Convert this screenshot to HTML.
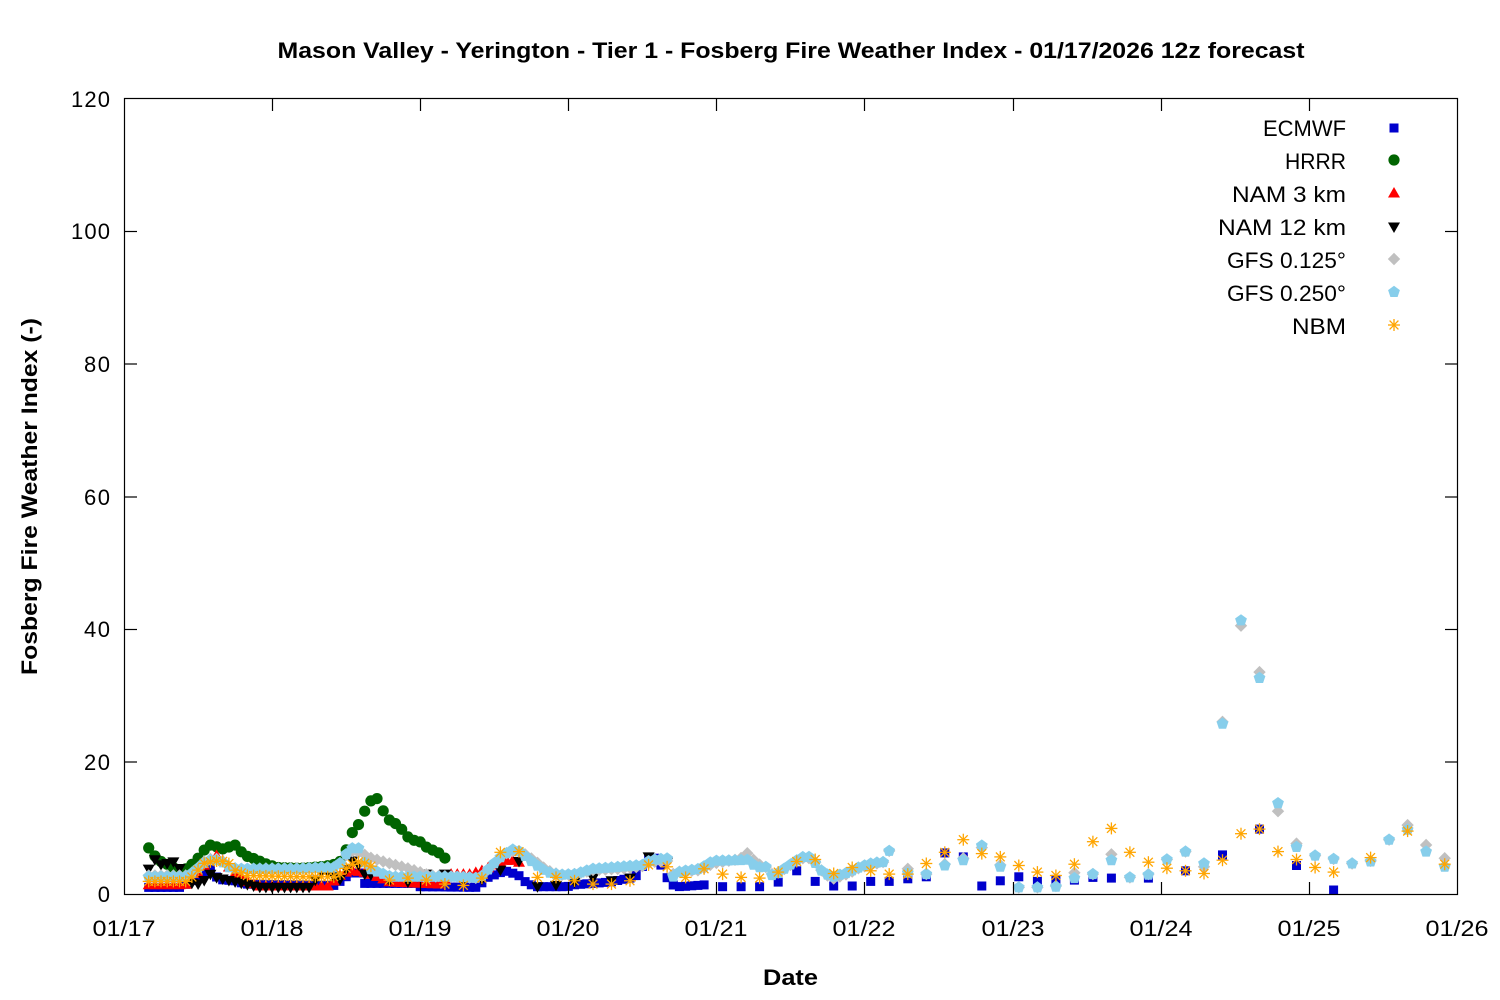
<!DOCTYPE html>
<html>
<head>
<meta charset="utf-8">
<style>
html,body{margin:0;padding:0;background:#fff;}
svg{display:block;}
text{font-family:"Liberation Sans",sans-serif;fill:#000;}
</style>
</head>
<body>
<svg id="chart" width="1500" height="1000" viewBox="0 0 1500 1000" xmlns="http://www.w3.org/2000/svg">
<defs>
  <rect id="mSq" x="-4.5" y="-4.5" width="9" height="9" fill="#0000cd"/>
  <circle id="mCi" cx="0" cy="0" r="5.6" fill="#006400"/>
  <polygon id="mUp" points="0,-6 6,4.5 -6,4.5" fill="#ff0000"/>
  <polygon id="mDn" points="0,6 6,-4.5 -6,-4.5" fill="#000000"/>
  <polygon id="mDi" points="0,-6.2 6.2,0 0,6.2 -6.2,0" fill="#c0c0c0"/>
  <polygon id="mPe" points="0,-6.2 5.9,-1.9 3.6,5 -3.6,5 -5.9,-1.9" fill="#87ceeb"/>
  <g id="mSt" stroke="#ffa500" stroke-width="1.3" fill="none">
    <line x1="-6" y1="0" x2="6" y2="0"/>
    <line x1="0" y1="-6" x2="0" y2="6"/>
    <line x1="-4.4" y1="-4.4" x2="4.4" y2="4.4"/>
    <line x1="-4.4" y1="4.4" x2="4.4" y2="-4.4"/>
  </g>
</defs>

<rect x="0" y="0" width="1500" height="1000" fill="#fff"/>

<!-- title -->
<text x="791" y="58" text-anchor="middle" font-size="22" font-weight="bold" textLength="1027" lengthAdjust="spacingAndGlyphs">Mason Valley - Yerington - Tier 1 - Fosberg Fire Weather Index - 01/17/2026 12z forecast</text>

<!-- data -->
<g id="data"></g>

<!-- axes box -->
<rect x="124.5" y="98.5" width="1333" height="796" fill="none" stroke="#000" stroke-width="1.2"/>

<!-- ticks -->
<g stroke="#000" stroke-width="1.2">
  <line x1="124.5" y1="762" x2="137" y2="762"/><line x1="1445" y1="762" x2="1457.5" y2="762"/>
  <line x1="124.5" y1="629.5" x2="137" y2="629.5"/><line x1="1445" y1="629.5" x2="1457.5" y2="629.5"/>
  <line x1="124.5" y1="497" x2="137" y2="497"/><line x1="1445" y1="497" x2="1457.5" y2="497"/>
  <line x1="124.5" y1="364" x2="137" y2="364"/><line x1="1445" y1="364" x2="1457.5" y2="364"/>
  <line x1="124.5" y1="231.5" x2="137" y2="231.5"/><line x1="1445" y1="231.5" x2="1457.5" y2="231.5"/>

  <line x1="272.5" y1="894.5" x2="272.5" y2="882"/><line x1="272.5" y1="98.5" x2="272.5" y2="111"/>
  <line x1="420.5" y1="894.5" x2="420.5" y2="882"/><line x1="420.5" y1="98.5" x2="420.5" y2="111"/>
  <line x1="568.5" y1="894.5" x2="568.5" y2="882"/><line x1="568.5" y1="98.5" x2="568.5" y2="111"/>
  <line x1="716.5" y1="894.5" x2="716.5" y2="882"/><line x1="716.5" y1="98.5" x2="716.5" y2="111"/>
  <line x1="864.5" y1="894.5" x2="864.5" y2="882"/><line x1="864.5" y1="98.5" x2="864.5" y2="111"/>
  <line x1="1013.5" y1="894.5" x2="1013.5" y2="882"/><line x1="1013.5" y1="98.5" x2="1013.5" y2="111"/>
  <line x1="1161.5" y1="894.5" x2="1161.5" y2="882"/><line x1="1161.5" y1="98.5" x2="1161.5" y2="111"/>
  <line x1="1309.5" y1="894.5" x2="1309.5" y2="882"/><line x1="1309.5" y1="98.5" x2="1309.5" y2="111"/>
</g>

<!-- y tick labels -->
<g font-size="22" text-anchor="end">
  <text x="110" y="902" textLength="13">0</text>
  <text x="110" y="770" textLength="26">20</text>
  <text x="110" y="637" textLength="26">40</text>
  <text x="110" y="505" textLength="26">60</text>
  <text x="110" y="372" textLength="26">80</text>
  <text x="110" y="239" textLength="39">100</text>
  <text x="110" y="107" textLength="39">120</text>
</g>

<!-- x tick labels -->
<g font-size="22" text-anchor="middle">
  <text x="124" y="936" textLength="63" lengthAdjust="spacingAndGlyphs">01/17</text>
  <text x="272" y="936" textLength="63" lengthAdjust="spacingAndGlyphs">01/18</text>
  <text x="420" y="936" textLength="63" lengthAdjust="spacingAndGlyphs">01/19</text>
  <text x="568" y="936" textLength="63" lengthAdjust="spacingAndGlyphs">01/20</text>
  <text x="716" y="936" textLength="63" lengthAdjust="spacingAndGlyphs">01/21</text>
  <text x="864" y="936" textLength="63" lengthAdjust="spacingAndGlyphs">01/22</text>
  <text x="1013" y="936" textLength="63" lengthAdjust="spacingAndGlyphs">01/23</text>
  <text x="1161" y="936" textLength="63" lengthAdjust="spacingAndGlyphs">01/24</text>
  <text x="1309" y="936" textLength="63" lengthAdjust="spacingAndGlyphs">01/25</text>
  <text x="1457" y="936" textLength="63" lengthAdjust="spacingAndGlyphs">01/26</text>
</g>

<!-- axis titles -->
<text x="790.5" y="985" text-anchor="middle" font-size="22" font-weight="bold" textLength="55" lengthAdjust="spacingAndGlyphs">Date</text>
<text transform="translate(37,496.5) rotate(-90)" x="0" y="0" text-anchor="middle" font-size="22" font-weight="bold" textLength="357" lengthAdjust="spacingAndGlyphs">Fosberg Fire Weather Index (-)</text>

<!-- legend -->
<g font-size="22" text-anchor="end">
  <text x="1346" y="136" textLength="83" lengthAdjust="spacingAndGlyphs">ECMWF</text>
  <text x="1346" y="169" textLength="61" lengthAdjust="spacingAndGlyphs">HRRR</text>
  <text x="1346" y="202" textLength="114" lengthAdjust="spacingAndGlyphs">NAM 3 km</text>
  <text x="1346" y="235" textLength="128" lengthAdjust="spacingAndGlyphs">NAM 12 km</text>
  <text x="1346" y="268" textLength="119" lengthAdjust="spacingAndGlyphs">GFS 0.125°</text>
  <text x="1346" y="301" textLength="119" lengthAdjust="spacingAndGlyphs">GFS 0.250°</text>
  <text x="1346" y="334" textLength="54" lengthAdjust="spacingAndGlyphs">NBM</text>
</g>
<g>
  <use href="#mSq" x="1394" y="128"/>
  <use href="#mCi" x="1394" y="160"/>
  <use href="#mUp" x="1394" y="193"/>
  <use href="#mDn" x="1394" y="227"/>
  <use href="#mDi" x="1394" y="259"/>
  <use href="#mPe" x="1394" y="292"/>
  <use href="#mSt" x="1394" y="325"/>
</g>
</svg>

<script>
(function(){
var S=1333/216;
function X(h){return 124+h*S;}
function Y(v){return 894-v*6.625;}
function interp(k,x){
  if(x<=k[0][0])return k[0][1];
  for(var i=1;i<k.length;i++){
    if(x<=k[i][0]){var a=k[i-1],b=k[i];return a[1]+(b[1]-a[1])*(x-a[0])/(b[0]-a[0]);}
  }
  return k[k.length-1][1];
}
function hourly(k,h0,h1,step){
  var p=[];for(var h=h0;h<=h1+1e-9;h+=step){var x=X(h);p.push([x,interp(k,x)]);}return p;
}
function disc(obj){
  var p=[];for(var i=0;i<obj.length;i++){p.push([X(obj[i][0]),obj[i][1]]);}return p;
}
var out=[];
function draw(id,pts){
  for(var i=0;i<pts.length;i++){
    out.push('<use href="#'+id+'" x="'+pts[i][0].toFixed(1)+'" y="'+Y(pts[i][1]).toFixed(1)+'"/>');
  }
}

// ECMWF
var Ek=[[148,1.0],[180,1.0],[190,1.8],[200,3.0],[211,4.0],[218,2.2],[235,2.0],[245,1.5],[335,1.3],[345,2.5],[357,3.6],[364,1.6],[414,1.6],[420,1.1],[478,1.0],[486,2.4],[505,3.5],[518,2.9],[527,1.6],[537,1.1],[567,1.1],[575,1.4],[610,1.8],[630,2.4],[640,3.0],[645,5.4],[658,5.4],[665,2.9],[672,1.4],[680,1.1],[707,1.4]];
var Ed=[[97,1.1],[100,1.1],[103,1.1],[106,1.8],[109,3.5],[112,1.9],[115,1.2],[118,1.2],[121,1.9],[124,1.9],[127,2.3],[130,2.6],[133,6.2],[136,5.6],[139,1.2],[142,2.0],[145,2.6],[148,1.9],[151,2.2],[154,2.1],[157,2.5],[160,2.4],[166,2.4],[172,3.5],[178,5.9],[184,9.8],[190,4.3],[196,0.6]];
draw('mSq',hourly(Ek,4,94,1).concat(disc(Ed)));

// HRRR
var Hk=[[148,7.1],[155,5.7],[161,4.9],[167,4.5],[173,4.0],[180,3.6],[186,3.8],[192,4.5],[198,5.4],[204,6.6],[210,7.4],[217,7.1],[223,6.8],[229,7.1],[235,7.4],[241,6.4],[247,5.7],[253,5.4],[259,5.0],[265,4.6],[271,4.3],[277,4.0],[300,3.9],[320,4.1],[333,4.4],[340,4.9],[346,6.6],[352,9.2],[358,10.3],[364,12.3],[370,14.0],[377,14.4],[383,12.6],[389,11.2],[395,10.7],[401,9.9],[408,8.6],[414,8.1],[420,7.9],[426,7.1],[433,6.6],[439,6.2],[445,5.4]];
draw('mCi',hourly(Hk,4,52,1));

// NAM 3km
var N3k=[[148,1.4],[185,1.4],[195,2.5],[205,4.5],[215,6.0],[225,4.8],[232,3.5],[245,2.0],[260,1.2],[330,1.2],[337,2.6],[350,3.6],[364,3.3],[380,2.5],[390,1.8],[440,1.5],[450,3.0],[470,3.0],[483,3.6],[500,4.8],[510,5.2],[519,4.8]];
draw('mUp',hourly(N3k,4,64,1));

// NAM 12km
var N12k=[[148,3.6],[155,5.2],[161,4.4],[167,4.6],[173,4.9],[179,4.0],[185,2.4],[192,1.6],[198,1.5],[204,2.0],[210,3.0],[216,2.5],[230,2.0],[260,1.0],[310,1.0],[324,3.8],[330,3.0],[341,2.1],[351,5.1],[358,4.5],[361,3.9],[365,2.9],[371,2.9]];
var N12d=[[43,2.0],[46,1.8],[49,3.0],[52,3.0],[55,1.8],[58,2.2],[61,3.6],[64,4.9],[67,1.1],[70,1.3],[73,1.8],[76,2.4],[79,2.0],[82,2.4],[85,5.6],[88,4.8]];
draw('mDn',hourly(N12k,4,40,1).concat(disc(N12d)));

// GFS 0.125
var Gk=[[148,2.8],[187,2.8],[195,3.5],[203,4.8],[210,5.3],[220,5.3],[230,4.0],[240,3.8],[300,3.9],[320,4.0],[337,4.0],[344,5.5],[350,6.5],[361,6.2],[370,5.5],[390,4.6],[410,3.8],[430,2.8],[457,2.6],[480,2.4],[490,4.0],[500,5.5],[507,6.2],[515,6.6],[523,6.2],[535,5.0],[547,3.6],[560,2.9],[575,3.0],[593,3.6],[620,3.8],[643,4.2],[650,4.8],[667,5.0],[673,3.0],[680,3.4],[700,3.6],[713,4.6],[740,5.3],[747,6.2],[757,4.6],[767,4.0],[773,2.8],[787,4.0],[797,5.1],[807,5.6],[817,4.6],[823,3.2],[833,2.3],[847,3.0],[860,4.0],[873,4.5],[883,4.8],[889,6.5]];
var Gd=[[127,3.8],[130,3.0],[133,4.5],[136,5.4],[139,7.0],[142,4.4],[145,1.0],[148,1.0],[151,1.2],[154,3.2],[157,3.0],[160,6.0],[163,2.5],[166,3.0],[169,5.2],[172,6.4],[175,4.1],[178,26.0],[181,40.5],[184,33.5],[187,12.5],[190,7.6],[193,5.8],[196,5.3],[199,4.6],[202,5.0],[205,8.2],[208,10.4],[211,7.4],[214,5.4]];
draw('mDi',hourly(Gk,4,124,1).concat(disc(Gd)));

// GFS 0.250
var Lk=[[148,2.6],[187,2.6],[195,3.5],[203,4.6],[210,5.1],[220,5.1],[230,3.9],[240,3.8],[300,3.8],[320,4.0],[337,4.0],[344,5.5],[350,6.9],[361,6.9],[366,4.0],[391,2.6],[457,2.6],[480,2.4],[490,4.0],[500,5.5],[507,6.2],[515,6.9],[523,6.0],[535,4.5],[547,3.3],[560,2.9],[575,3.0],[593,3.8],[620,4.1],[643,4.4],[650,5.1],[667,5.4],[673,2.6],[680,3.4],[700,3.8],[713,5.0],[740,5.1],[747,5.2],[757,4.0],[767,4.1],[773,2.6],[787,4.1],[797,5.1],[807,5.9],[817,4.4],[823,3.2],[833,2.6],[847,3.2],[860,4.1],[873,4.7],[883,4.8],[889,6.5]];
var Ld=[[127,3.2],[130,3.0],[133,4.3],[136,5.1],[139,7.3],[142,4.1],[145,1.0],[148,1.0],[151,1.1],[154,2.4],[157,3.0],[160,5.1],[163,2.5],[166,2.9],[169,5.2],[172,6.4],[175,4.6],[178,25.7],[181,41.3],[184,32.6],[187,13.7],[190,7.1],[193,5.8],[196,5.3],[199,4.6],[202,4.9],[205,8.2],[208,9.7],[211,6.4],[214,4.1]];
draw('mPe',hourly(Lk,4,124,1).concat(disc(Ld)));

// NBM
var Bk=[[148,1.9],[187,1.9],[195,3.0],[203,4.6],[215,5.0],[227,4.9],[235,3.6],[247,2.8],[300,2.6],[337,2.6],[347,4.0],[357,4.9],[364,4.7],[371,4.2]];
var Bd=[[43,2.1],[46,2.4],[49,2.1],[52,1.5],[55,1.3],[58,2.4],[61,6.3],[64,6.4],[67,2.5],[70,2.5],[73,2.0],[76,1.5],[79,1.5],[82,2.0],[85,4.4],[88,4.1],[91,2.5],[94,3.8],[97,3.0],[100,2.5],[103,2.4],[106,3.3],[109,4.9],[112,5.2],[115,3.1],[118,4.0],[121,3.5],[124,3.0],[127,3.0],[130,4.6],[133,6.3],[136,8.2],[139,6.1],[142,5.6],[145,4.3],[148,3.3],[151,2.8],[154,4.5],[157,7.9],[160,9.9],[163,6.3],[166,4.8],[169,3.9],[172,3.5],[175,3.1],[178,5.1],[181,9.1],[184,9.8],[187,6.4],[190,5.2],[193,4.0],[196,3.3],[202,5.5],[208,9.5],[214,4.5]];
draw('mSt',hourly(Bk,4,40,1).concat(disc(Bd)));

document.getElementById('data').innerHTML=out.join('');
})();
</script>
</body>
</html>
